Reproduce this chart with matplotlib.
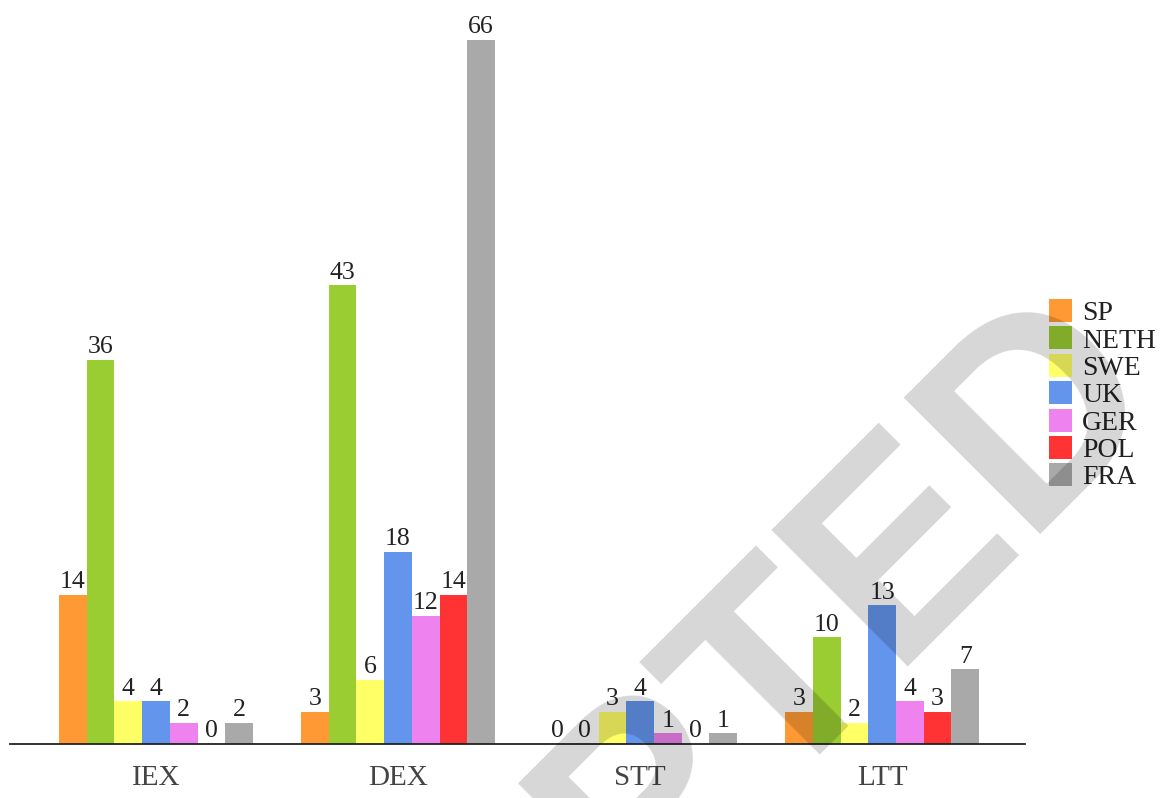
import matplotlib
matplotlib.use("Agg")
import matplotlib.pyplot as plt
import numpy as np

categories = ["IEX", "DEX", "STT", "LTT"]
series_names = ["SP", "NETH", "SWE", "UK", "GER", "POL", "FRA"]
SP = [14, 3, 0, 3]
NETH = [36, 43, 0, 10]
SWE = [4, 6, 3, 2]
UK = [4, 18, 4, 13]
GER = [2, 12, 1, 4]
POL = [0, 14, 0, 3]
FRA = [2, 66, 1, 7]
series_values = [SP, NETH, SWE, UK, GER, POL, FRA]
colors = ["#ff9933", "#9acd32", "#ffff66", "#6495ed", "#ee82ee", "#ff3333", "#a9a9a9"]

plt.rcParams["font.family"] = ["Liberation Serif", "DejaVu Serif"]

W, H = 1169, 798
fig = plt.figure(figsize=(W / 100, H / 100), dpi=100)
ax = fig.add_axes([10 / W, (H - 744) / H, (1025 - 10) / W, (744 - 40) / H])

x = np.arange(len(categories))
bw = 0.1145
n = len(series_names)
for i, (name, vals, c) in enumerate(zip(series_names, series_values, colors)):
    pos = x + (i - (n - 1) / 2) * bw
    bars = ax.bar(pos, vals, width=bw, color=c, label=name, linewidth=0)
    for b, v in zip(bars, vals):
        ax.text(b.get_x() + b.get_width() / 2, v + 0.15, str(v), ha="center", va="bottom",
                fontsize=18.5, color="#222222", clip_on=False)

ax.set_xlim(-0.603, 3.59)
ax.set_ylim(0, 66)
for s in ["top", "right", "left"]:
    ax.spines[s].set_visible(False)
ax.spines["bottom"].set_color("#222222")
ax.spines["bottom"].set_linewidth(1.3)
ax.set_yticks([])
ax.set_xticks(x)
ax.set_xticklabels(categories, fontsize=21, color="#444444")
ax.tick_params(axis="x", length=0, pad=15)

leg = fig.legend(loc="upper left", bbox_to_anchor=(1049 / W, (H - 299) / H), frameon=False,
                 fontsize=20, handlelength=0.83, handleheight=0.9, handletextpad=0.36,
                 labelspacing=0.01, borderpad=0.0, borderaxespad=0.0, labelcolor="#222222")

fig.text(1169 / W, (H - 399) / H, "ACCEPTED", rotation=45, rotation_mode="anchor",
         ha="right", va="baseline", fontsize=202, fontweight="bold",
         family="Liberation Sans", color="black", alpha=0.16, zorder=10)

fig.savefig("out.png", dpi=100)
